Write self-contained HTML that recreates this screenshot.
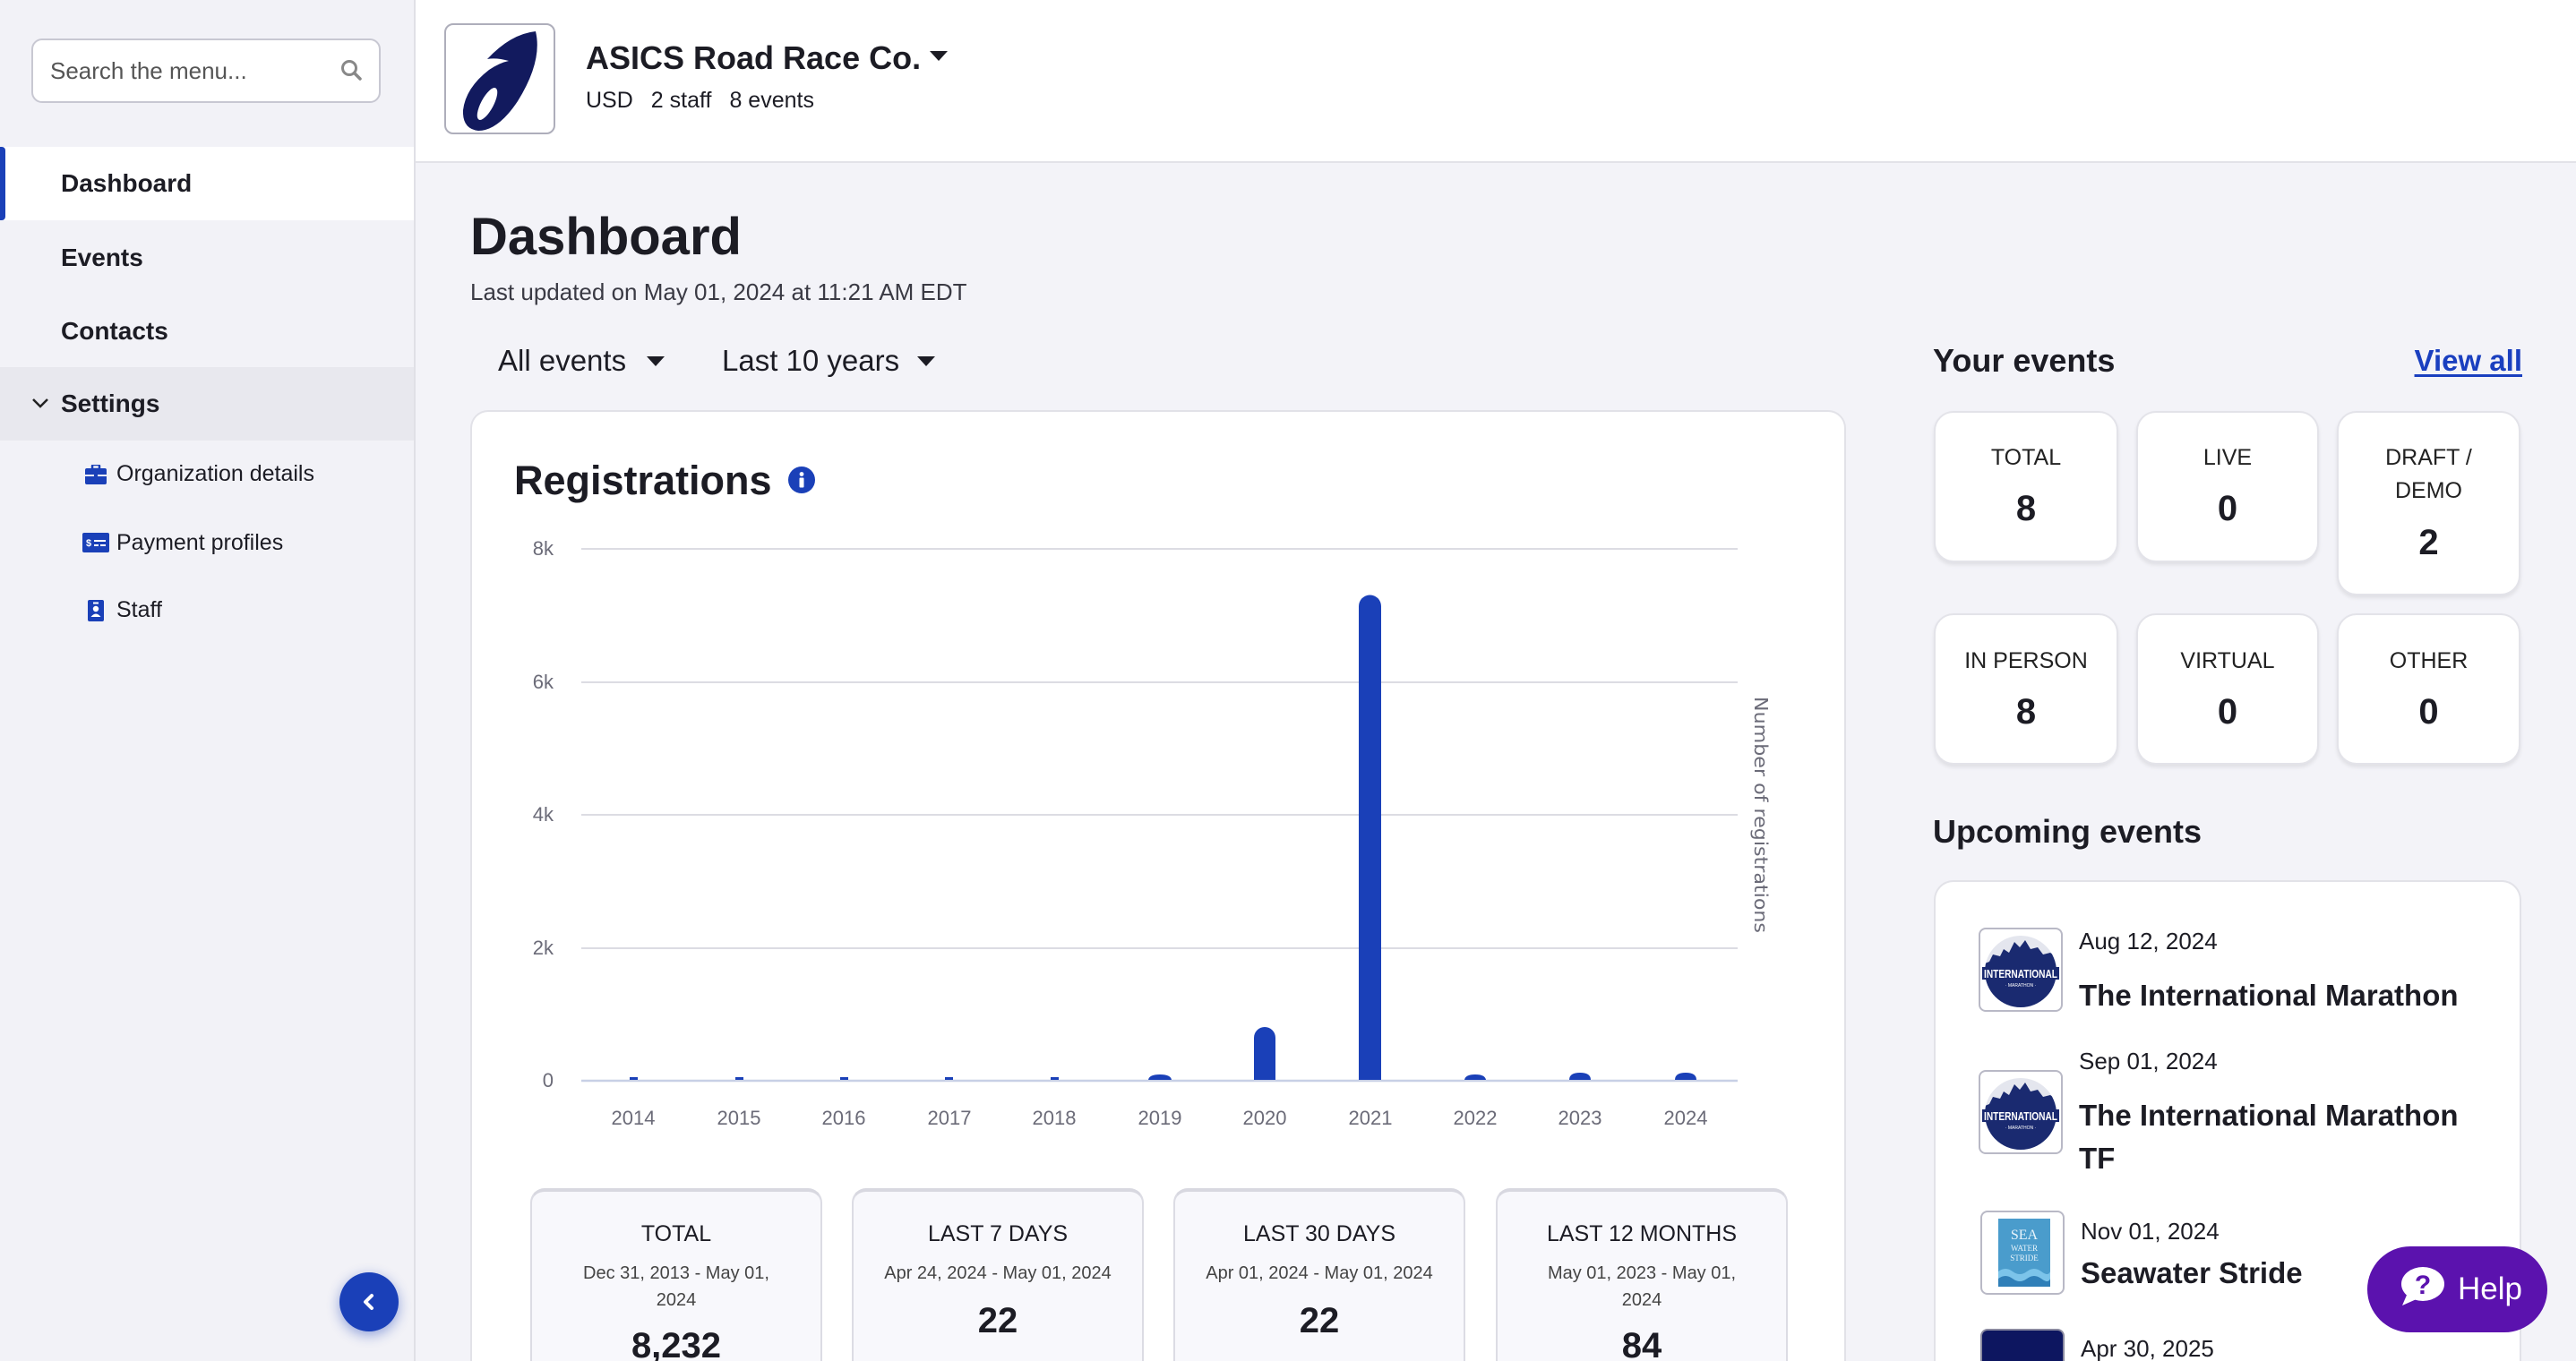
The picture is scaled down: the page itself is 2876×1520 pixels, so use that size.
<!DOCTYPE html>
<html><head><meta charset="utf-8">
<style>
*{box-sizing:border-box;margin:0;padding:0}
html,body{width:2876px;height:1520px;overflow:hidden}
body{position:relative;background:#f3f3f8;font-family:"Liberation Sans",sans-serif;color:#1c1c24}
.a{position:absolute}
.t{position:absolute;white-space:nowrap;line-height:1}
.b{font-weight:700}
.card{position:absolute;background:#fff;border:2px solid #e2e2e8;border-bottom:none;border-radius:20px 20px 0 0}
.ec{position:absolute;background:#fff;border:2px solid #e3e3e9;border-radius:22px;box-shadow:0 3px 4px rgba(0,0,0,0.08)}
.ec .l{position:absolute;left:0;right:0;text-align:center;font-size:25px;line-height:1;color:#222}
.ec .n{position:absolute;left:0;right:0;text-align:center;font-size:40px;font-weight:700;line-height:1;color:#1c1c24}
.sc{position:absolute;background:#f8f8fc;border:2px solid #dcdce4;border-top:4px solid #d8d8e0;border-bottom:none;border-radius:16px 16px 0 0;width:326px;height:193px;top:1327px;overflow:hidden}
.sc .l{position:absolute;left:0;right:0;text-align:center;font-size:25px;line-height:1;color:#1c1c24}
.sc .d{position:absolute;left:0;right:0;text-align:center;font-size:20px;line-height:30px;color:#444}
.sc .n{position:absolute;left:0;right:0;text-align:center;font-size:40px;font-weight:700;line-height:1;color:#1c1c24}
.img{position:absolute;width:94px;height:94px;border:2px solid #b9b9c6;border-radius:8px;background:#fff;overflow:hidden}
</style></head><body>

<!-- Sidebar -->
<div class="a" style="left:0;top:0;width:462px;height:1520px;background:#f2f2f7"></div>
<div class="a" style="left:462px;top:0;width:2px;height:1520px;background:#e0e0e6"></div>
<div class="a" style="left:35px;top:43px;width:390px;height:72px;background:#fff;border:2px solid #c8c8d2;border-radius:12px"></div>
<div class="t" style="left:56px;top:66px;font-size:26px;color:#555">Search the menu...</div>
<svg class="a" style="left:380px;top:66px" width="26" height="26" viewBox="0 0 26 26"><circle cx="10" cy="10" r="7.5" fill="none" stroke="#888" stroke-width="3"/><line x1="15.5" y1="15.5" x2="22" y2="22" stroke="#888" stroke-width="3.5" stroke-linecap="round"/></svg>

<div class="a" style="left:0;top:164px;width:462px;height:82px;background:#fff"></div>
<div class="a" style="left:0;top:164px;width:6px;height:82px;background:#1a40b8;border-radius:0 4px 4px 0"></div>
<div class="t b" style="left:68px;top:191px;font-size:28px">Dashboard</div>
<div class="t b" style="left:68px;top:274px;font-size:28px">Events</div>
<div class="t b" style="left:68px;top:356px;font-size:28px">Contacts</div>
<div class="a" style="left:0;top:410px;width:462px;height:82px;background:#e8e8ee"></div>
<svg class="a" style="left:35px;top:443px" width="20" height="14" viewBox="0 0 20 14"><polyline points="2,3 10,11 18,3" fill="none" stroke="#222" stroke-width="2.5"/></svg>
<div class="t b" style="left:68px;top:437px;font-size:28px">Settings</div>

<svg class="a" style="left:95px;top:519px" width="24" height="22" viewBox="0 0 24 22"><rect x="8" y="0" width="8" height="5" rx="1.5" fill="none" stroke="#1a40b8" stroke-width="2.5"/><rect x="0" y="4" width="24" height="18" rx="2" fill="#1a40b8"/><rect x="0" y="11" width="24" height="2" fill="#f2f2f7"/><rect x="10" y="10" width="4" height="4" fill="#1a40b8"/></svg>
<div class="t" style="left:130px;top:517px;font-size:25px">Organization details</div>
<svg class="a" style="left:92px;top:595px" width="30" height="22" viewBox="0 0 30 22"><rect x="0" y="0" width="30" height="22" rx="2" fill="#1a40b8"/><text x="4" y="15" font-family="Liberation Sans" font-size="11" font-weight="700" fill="#fff">$</text><rect x="13" y="8" width="13" height="2" fill="#fff"/><rect x="13" y="13" width="5" height="2" fill="#fff"/><rect x="20" y="13" width="6" height="2" fill="#fff"/></svg>
<div class="t" style="left:130px;top:594px;font-size:25px">Payment profiles</div>
<svg class="a" style="left:98px;top:670px" width="18" height="24" viewBox="0 0 18 24"><rect x="0" y="0" width="18" height="24" rx="2" fill="#1a40b8"/><circle cx="9" cy="10" r="3.2" fill="#fff"/><path d="M3.5 19 Q9 12 14.5 19 Z" fill="#fff"/><rect x="6" y="2.5" width="6" height="2" fill="#fff"/></svg>
<div class="t" style="left:130px;top:669px;font-size:25px">Staff</div>

<div class="a" style="left:379px;top:1421px;width:66px;height:66px;border-radius:50%;background:#1a40b8;box-shadow:0 4px 14px rgba(26,64,184,0.45)"></div>
<svg class="a" style="left:402px;top:1443px" width="20" height="22" viewBox="0 0 20 22"><polyline points="13,4 6,11 13,18" fill="none" stroke="#fff" stroke-width="4" stroke-linecap="round" stroke-linejoin="round"/></svg>

<!-- Header -->
<div class="a" style="left:464px;top:0;width:2412px;height:182px;background:#fff;border-bottom:2px solid #e2e2e8"></div>
<div class="a" style="left:496px;top:26px;width:124px;height:124px;border:2px solid #aeaebb;border-radius:10px;background:#fff;overflow:hidden">
<svg width="120" height="120" viewBox="0 0 120 120">
<path d="M46 38 Q72 10 100 7 Q108 40 80 85 Q58 118 36 118 Q18 116 19 95 Q22 70 48 50 Q60 42 70 40 Q56 36 46 38 Z" fill="#121a5e"/>
<ellipse cx="0" cy="0" rx="7" ry="20" transform="translate(46,88) rotate(28)" fill="#fff"/>
</svg></div>
<div class="t b" style="left:654px;top:47px;font-size:36px">ASICS Road Race Co.</div>
<svg class="a" style="left:1038px;top:57px" width="20" height="12" viewBox="0 0 20 12"><polygon points="0,0 20,0 10,11" fill="#1c1c24"/></svg>
<div class="t" style="left:654px;top:100px;font-size:25px">USD<span style="margin-left:20px">2 staff</span><span style="margin-left:20px">8 events</span></div>

<!-- Main title -->
<div class="t b" style="left:525px;top:236px;font-size:58px">Dashboard</div>
<div class="t" style="left:525px;top:313px;font-size:26px;color:#3a3a44">Last updated on May 01, 2024 at 11:21 AM EDT</div>
<div class="t" style="left:556px;top:386px;font-size:33px">All events</div>
<svg class="a" style="left:722px;top:398px" width="20" height="12" viewBox="0 0 20 12"><polygon points="0,0 20,0 10,11" fill="#1c1c24"/></svg>
<div class="t" style="left:806px;top:386px;font-size:33px">Last 10 years</div>
<svg class="a" style="left:1024px;top:398px" width="20" height="12" viewBox="0 0 20 12"><polygon points="0,0 20,0 10,11" fill="#1c1c24"/></svg>

<!-- Registrations card -->
<div class="card" style="left:525px;top:458px;width:1536px;height:1062px"></div>
<div class="t b" style="left:574px;top:514px;font-size:45px">Registrations</div>
<svg class="a" style="left:879px;top:520px" width="32" height="32" viewBox="0 0 32 32"><circle cx="16" cy="16" r="15" fill="#1a40b8"/><circle cx="16" cy="9.5" r="2.4" fill="#fff"/><rect x="13.5" y="13.5" width="5" height="11" rx="1" fill="#fff"/></svg>

<svg class="a" style="left:0;top:0" width="2876" height="1520" viewBox="0 0 2876 1520">
<g stroke="#dcdce3" stroke-width="2">
<line x1="649" y1="613" x2="1940" y2="613"/>
<line x1="649" y1="762" x2="1940" y2="762"/>
<line x1="649" y1="910" x2="1940" y2="910"/>
<line x1="649" y1="1059" x2="1940" y2="1059"/>
</g>
<line x1="649" y1="1207" x2="1940" y2="1207" stroke="#c8d0e6" stroke-width="2.5"/>
<g font-family="Liberation Sans" font-size="22" fill="#6b6b78" text-anchor="end">
<text x="618" y="620">8k</text><text x="618" y="769">6k</text><text x="618" y="917">4k</text><text x="618" y="1066">2k</text><text x="618" y="1214">0</text>
</g>
<g font-family="Liberation Sans" font-size="22" fill="#6b6b78" text-anchor="middle">
<text x="707" y="1256">2014</text><text x="825" y="1256">2015</text><text x="942" y="1256">2016</text><text x="1060" y="1256">2017</text><text x="1177" y="1256">2018</text><text x="1295" y="1256">2019</text><text x="1412" y="1256">2020</text><text x="1530" y="1256">2021</text><text x="1647" y="1256">2022</text><text x="1764" y="1256">2023</text><text x="1882" y="1256">2024</text>
</g>
<g fill="#1a40b8">
<rect x="703" y="1203" width="9" height="3"/>
<rect x="821" y="1203" width="9" height="3"/>
<rect x="938" y="1203" width="9" height="3"/>
<rect x="1055" y="1203" width="9" height="3"/>
<rect x="1173" y="1203" width="9" height="3"/>
<path d="M1282 1206 Q1283 1200 1295 1200 Q1307 1200 1308 1206 Z"/>
<path d="M1400 1206 V1159 A12 12 0 0 1 1424 1159 V1206 Z"/>
<path d="M1517 1206 V677 A12.5 12.5 0 0 1 1542 677 V1206 Z"/>
<path d="M1635 1206 Q1636 1200 1647 1200 Q1658 1200 1659 1206 Z"/>
<path d="M1752 1206 Q1752 1198 1764 1198 Q1776 1198 1776 1206 Z"/>
<path d="M1870 1206 Q1870 1198 1882 1198 Q1894 1198 1894 1206 Z"/>
</g>
<text transform="translate(1959,910) rotate(90)" text-anchor="middle" font-family="DejaVu Sans" font-size="20" fill="#6b6b78" textLength="264" lengthAdjust="spacingAndGlyphs">Number of registrations</text>
</svg>

<div class="sc" style="left:592px"><div class="l" style="top:35px">TOTAL</div><div class="d" style="top:76px">Dec 31, 2013 - May 01,<br>2024</div><div class="n" style="top:152px">8,232</div></div>
<div class="sc" style="left:951px"><div class="l" style="top:35px">LAST 7 DAYS</div><div class="d" style="top:76px">Apr 24, 2024 - May 01, 2024</div><div class="n" style="top:124px">22</div></div>
<div class="sc" style="left:1310px"><div class="l" style="top:35px">LAST 30 DAYS</div><div class="d" style="top:76px">Apr 01, 2024 - May 01, 2024</div><div class="n" style="top:124px">22</div></div>
<div class="sc" style="left:1670px"><div class="l" style="top:35px">LAST 12 MONTHS</div><div class="d" style="top:76px">May 01, 2023 - May 01,<br>2024</div><div class="n" style="top:152px">84</div></div>

<!-- Right column -->
<div class="t b" style="left:2158px;top:385px;font-size:36px">Your events</div>
<div class="t b" style="right:60px;top:386px;font-size:33px;color:#1a3fbf;text-decoration:underline;text-decoration-thickness:3px;text-underline-offset:4px">View all</div>

<div class="ec" style="left:2159px;top:459px;width:206px;height:169px"><div class="l" style="top:38px">TOTAL</div><div class="n" style="top:87px">8</div></div>
<div class="ec" style="left:2385px;top:459px;width:204px;height:169px"><div class="l" style="top:38px">LIVE</div><div class="n" style="top:87px">0</div></div>
<div class="ec" style="left:2609px;top:459px;width:205px;height:206px"><div class="l" style="top:38px">DRAFT /</div><div class="l" style="top:75px">DEMO</div><div class="n" style="top:125px">2</div></div>
<div class="ec" style="left:2159px;top:685px;width:206px;height:169px"><div class="l" style="top:39px">IN PERSON</div><div class="n" style="top:88px">8</div></div>
<div class="ec" style="left:2385px;top:685px;width:204px;height:169px"><div class="l" style="top:39px">VIRTUAL</div><div class="n" style="top:88px">0</div></div>
<div class="ec" style="left:2609px;top:685px;width:205px;height:169px"><div class="l" style="top:39px">OTHER</div><div class="n" style="top:88px">0</div></div>

<div class="t b" style="left:2158px;top:911px;font-size:36px">Upcoming events</div>
<div class="card" style="left:2159px;top:983px;width:656px;height:537px;border-radius:22px 22px 0 0"></div>

<div class="img" style="left:2209px;top:1036px"><svg width="90" height="90" viewBox="0 0 90 90"><defs><clipPath id="c1"><circle cx="45" cy="47" r="40"/></clipPath></defs><g clip-path="url(#c1)"><rect width="90" height="90" fill="#e4e6ee"/><path d="M0 40 L10 36 L14 28 L22 30 L26 22 L32 26 L38 14 L44 20 L50 12 L56 22 L64 20 L70 28 L78 26 L90 34 V90 H0 Z" fill="#1a2a70"/></g><rect x="2" y="42" width="86" height="14" fill="#1a2a70"/><text x="45" y="54" text-anchor="middle" font-family="Liberation Sans" font-size="13" font-weight="700" fill="#fff" textLength="82" lengthAdjust="spacingAndGlyphs">INTERNATIONAL</text><text x="45" y="64" text-anchor="middle" font-family="Liberation Sans" font-size="5" fill="#fff">· MARATHON ·</text></svg></div>
<div class="t" style="left:2321px;top:1038px;font-size:26px">Aug 12, 2024</div>
<div class="t b" style="left:2321px;top:1095px;font-size:33px">The International Marathon</div>

<div class="img" style="left:2209px;top:1195px"><svg width="90" height="90" viewBox="0 0 90 90"><defs><clipPath id="c2"><circle cx="45" cy="47" r="40"/></clipPath></defs><g clip-path="url(#c2)"><rect width="90" height="90" fill="#e4e6ee"/><path d="M0 40 L10 36 L14 28 L22 30 L26 22 L32 26 L38 14 L44 20 L50 12 L56 22 L64 20 L70 28 L78 26 L90 34 V90 H0 Z" fill="#1a2a70"/></g><rect x="2" y="42" width="86" height="14" fill="#1a2a70"/><text x="45" y="54" text-anchor="middle" font-family="Liberation Sans" font-size="13" font-weight="700" fill="#fff" textLength="82" lengthAdjust="spacingAndGlyphs">INTERNATIONAL</text><text x="45" y="64" text-anchor="middle" font-family="Liberation Sans" font-size="5" fill="#fff">· MARATHON ·</text></svg></div>
<div class="t" style="left:2321px;top:1172px;font-size:26px">Sep 01, 2024</div>
<div class="t b" style="left:2321px;top:1229px;font-size:33px">The International Marathon</div>
<div class="t b" style="left:2321px;top:1277px;font-size:33px">TF</div>

<div class="img" style="left:2211px;top:1352px"><svg width="90" height="90" viewBox="0 0 90 90"><rect x="18" y="7" width="58" height="76" fill="#4a9ccc"/><text x="47" y="30" text-anchor="middle" font-family="Liberation Serif" font-size="16" fill="#e8f4fb">SEA</text><text x="47" y="43" text-anchor="middle" font-family="Liberation Serif" font-size="9" fill="#e8f4fb">WATER</text><text x="47" y="54" text-anchor="middle" font-family="Liberation Serif" font-size="9" fill="#e8f4fb">STRIDE</text><path d="M18 66 Q26 60 34 66 T50 66 T66 66 T76 66 V83 H18 Z" fill="#7cc4ea"/><path d="M18 74 Q26 68 34 74 T50 74 T66 74 T76 74 V83 H18 Z" fill="#2f7fb8"/></svg></div>
<div class="t" style="left:2323px;top:1362px;font-size:26px">Nov 01, 2024</div>
<div class="t b" style="left:2323px;top:1405px;font-size:33px">Seawater Stride</div>

<div class="a" style="left:2211px;top:1484px;width:94px;height:36px;border:2px solid #8a8aa0;border-bottom:none;border-radius:8px 8px 0 0;background:#0d1660"></div>
<div class="t" style="left:2323px;top:1493px;font-size:26px">Apr 30, 2025</div>

<!-- Help button -->
<div class="a" style="left:2643px;top:1392px;width:201px;height:96px;border-radius:48px;background:#5b12ae"></div>
<svg class="a" style="left:2678px;top:1414px" width="52" height="46" viewBox="0 0 52 46"><ellipse cx="27" cy="20" rx="24" ry="19" fill="#fff"/><path d="M10 30 L4 44 L22 36 Z" fill="#fff"/><text x="27" y="31" text-anchor="middle" font-family="Liberation Sans" font-size="30" font-weight="700" fill="#5b12ae">?</text></svg>
<div class="t" style="left:2744px;top:1422px;font-size:35px;color:#fff">Help</div>

</body></html>
